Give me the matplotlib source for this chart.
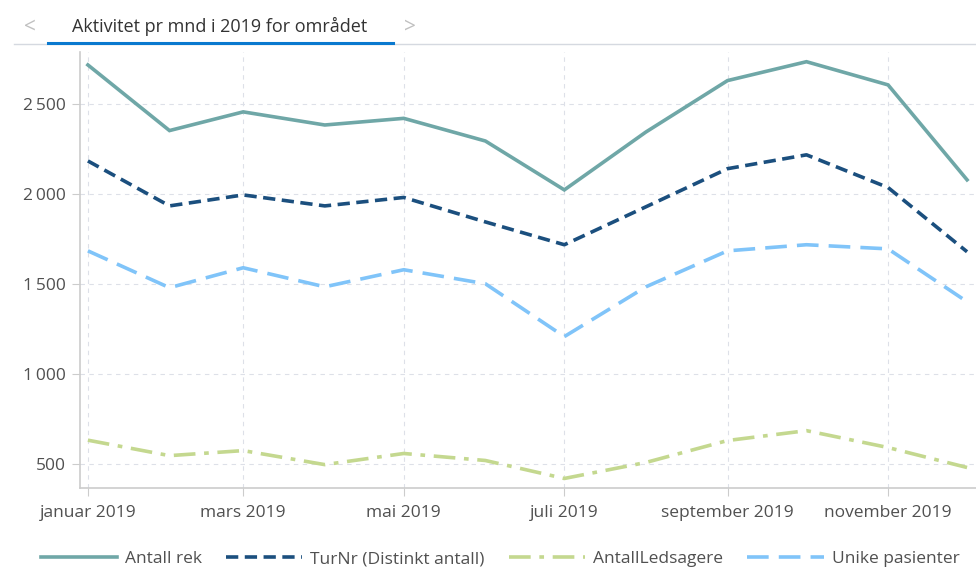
import numpy as np
import matplotlib
matplotlib.use("Agg")
import matplotlib.pyplot as plt
import matplotlib.dates as mdates
from matplotlib.lines import Line2D
from matplotlib.ticker import FuncFormatter
from datetime import datetime

plt.rcParams['font.family'] = ['Open Sans', 'DejaVu Sans']

months = [datetime(2019, m, 1) for m in range(1, 13)]
antall_rek = [2717, 2352, 2456, 2383, 2420, 2294, 2022, 2344, 2630, 2735, 2606, 2078]
turnr = [2183, 1933, 1994, 1933, 1980, 1844, 1717, 1928, 2140, 2217, 2035, 1678]
ledsagere = [630, 544, 572, 494, 556, 517, 417, 506, 628, 683, 589, 478]
unike = [1683, 1478, 1589, 1483, 1578, 1500, 1206, 1483, 1683, 1717, 1694, 1400]

tick_months = [datetime(2019, m, 1) for m in (1, 3, 5, 7, 9, 11)]
tick_labels = ["januar 2019", "mars 2019", "mai 2019", "juli 2019",
               "september 2019", "november 2019"]
y_ticks = [500, 1000, 1500, 2000, 2500]

c_rek = "#6fa7a7"
c_tur = "#1b4f7e"
c_led = "#c4d88f"
c_uni = "#80c4f9"

fig = plt.figure(figsize=(9.76, 5.69), dpi=100)
ax = fig.add_axes([80 / 976, 1 - 488 / 569, 896 / 976, (488 - 52) / 569])

lw = 2.6
ax.plot(months, antall_rek, color=c_rek, lw=lw, solid_joinstyle="miter")
ax.plot(months, turnr, color=c_tur, lw=lw, linestyle=(0, (3.4, 1.8)))
ax.plot(months, ledsagere, color=c_led, lw=lw, linestyle=(0, (6.0, 2.4, 1.3, 2.4)))
ax.plot(months, unike, color=c_uni, lw=lw, linestyle=(0, (6.0, 2.8)))

x0 = mdates.date2num(datetime(2019, 1, 1))
ax.set_xlim(x0 - 3.0, mdates.date2num(datetime(2019, 11, 1)) + 33.4)
ax.set_ylim(364, 2789)

ax.set_xticks(tick_months)
ax.set_xticklabels(tick_labels)
ax.set_yticks(y_ticks)
ax.yaxis.set_major_formatter(FuncFormatter(lambda v, p: f"{int(v):,}".replace(",", "\u2009")))

ax.grid(True, color="#dde0e8", linestyle=(0, (4, 4)), linewidth=0.8)
ax.set_axisbelow(True)
for s in ("top", "right"):
    ax.spines[s].set_visible(False)
for s in ("left", "bottom"):
    ax.spines[s].set_color("#cccccc")
    ax.spines[s].set_linewidth(1.2)
ax.tick_params(axis="both", colors="#cccccc", labelcolor="#505050", labelsize=12.5, length=6)
ax.tick_params(axis="x", pad=6)
ax.tick_params(axis="y", pad=4)

# tab header
fig.text(30 / 976, 1 - 27 / 569, "<", color="#c0c0c0", fontsize=15, ha="center", va="center")
fig.text(410 / 976, 1 - 27 / 569, ">", color="#c0c0c0", fontsize=15, ha="center", va="center")
fig.text(220 / 976, 1 - 26 / 569, "Aktivitet pr mnd i 2019 for området", color="#333333",
         fontsize=13, ha="center", va="center")
fig.add_artist(Line2D([14 / 976, 1], [1 - 44 / 569] * 2, color="#d5d9e0", lw=1))
fig.add_artist(Line2D([48 / 976, 393 / 976], [1 - 43 / 569] * 2, color="#0a79cf", lw=2.2))

handles = [
    Line2D([], [], color=c_rek, lw=lw),
    Line2D([], [], color=c_tur, lw=lw, linestyle=(0, (3.4, 1.8))),
    Line2D([], [], color=c_led, lw=lw, linestyle=(0, (6.0, 2.4, 1.3, 2.4))),
    Line2D([], [], color=c_uni, lw=lw, linestyle=(0, (6.0, 2.8))),
]
labels = ["Antall rek", "TurNr (Distinkt antall)", "AntallLedsagere", "Unike pasienter"]
fig.legend(handles, labels, loc="center", bbox_to_anchor=(500 / 976, 1 - 559 / 569), ncol=4,
           frameon=False, fontsize=12.5, handlelength=4.4, columnspacing=1.4,
           handletextpad=0.45, labelcolor="#505050")

fig.savefig("out.png", dpi=100)
